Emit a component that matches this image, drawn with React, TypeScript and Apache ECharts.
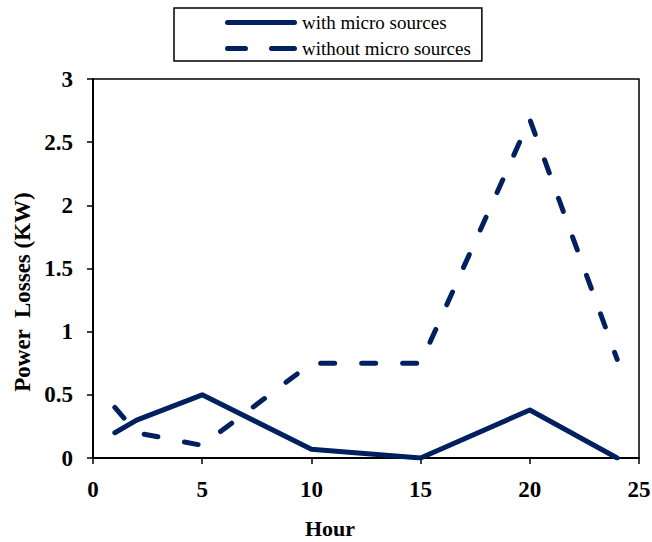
import React, { useEffect, useRef } from "react";
import * as echarts from "echarts";

const hours = [1, 2, 5, 10, 15, 20, 24];
const withMicro = [0.2, 0.3, 0.5, 0.07, 0, 0.38, 0];
const withoutMicro = [0.4, 0.2, 0.1, 0.75, 0.75, 2.68, 0.78];
const seriesNames = ["with micro sources", "without micro sources"];
const xTitle = "Hour";
const yTitle = "Power  Losses (KW)";

const NAVY = "#002060";
const FONT = "'Liberation Serif', 'Times New Roman', serif";

const SOLID_ICON = "path://M2.5,0 H69.5 A2.5,2.5 0 0 1 69.5,5 H2.5 A2.5,2.5 0 0 1 2.5,0 Z";
const DASH_ICON =
  "path://M2.5,0 H20.5 A2.5,2.5 0 0 1 20.5,5 H2.5 A2.5,2.5 0 0 1 2.5,0 Z M46.5,0 H69.5 A2.5,2.5 0 0 1 69.5,5 H46.5 A2.5,2.5 0 0 1 46.5,0 Z";

export default function App() {
  const ref = useRef<HTMLDivElement>(null);
  useEffect(() => {
    if (!ref.current) return;
    const chart = echarts.init(ref.current, undefined, { renderer: "svg" });
    chart.setOption({
      animation: false,
      backgroundColor: "#fff",
      textStyle: { fontFamily: FONT },
      grid: {
        left: 93,
        right: 13,
        top: 79,
        bottom: 84,
        containLabel: false,
        outerBoundsMode: "none",
        show: true,
        borderColor: "#000",
        borderWidth: 1.5,
      },
      legend: {
        orient: "vertical",
        left: 174,
        top: 8,
        padding: [5, 11, 3, 51],
        itemWidth: 72,
        itemHeight: 5,
        itemGap: 7,
        borderColor: "#000",
        borderWidth: 1.5,
        borderRadius: 0,
        textStyle: { fontFamily: FONT, fontSize: 19, color: "#000" },
        data: [
          { name: seriesNames[0], icon: SOLID_ICON },
          { name: seriesNames[1], icon: DASH_ICON },
        ],
      },
      graphic: [
        {
          type: "text",
          left: 305,
          top: 517,
          style: { text: xTitle, fontFamily: FONT, fontSize: 22, fontWeight: "bold", fill: "#000" },
        },
        {
          type: "text",
          x: 22,
          y: 292,
          rotation: Math.PI / 2,
          style: {
            text: yTitle,
            fontFamily: FONT,
            fontSize: 23,
            fontWeight: "bold",
            fill: "#000",
            align: "center",
            verticalAlign: "middle",
          },
        },
      ],
      xAxis: {
        type: "value",
        min: 0,
        max: 25,
        interval: 5,
        axisLine: { show: true, onZero: false, lineStyle: { color: "#000", width: 2 } },
        axisTick: { show: true, length: 6, lineStyle: { color: "#000", width: 1.5 } },
        axisLabel: { fontFamily: FONT, fontSize: 23, fontWeight: "bold", color: "#000", margin: 20 },
        splitLine: { show: false },
      },
      yAxis: {
        type: "value",
        min: 0,
        max: 3,
        interval: 0.5,
        axisLine: { show: true, lineStyle: { color: "#000", width: 2 } },
        axisTick: { show: true, length: 6, lineStyle: { color: "#000", width: 1.5 } },
        axisLabel: { fontFamily: FONT, fontSize: 23, fontWeight: "bold", color: "#000", margin: 20 },
        splitLine: { show: false },
      },
      series: [
        {
          name: seriesNames[0],
          type: "line",
          data: hours.map((h, i) => [h, withMicro[i]]),
          symbol: "none",
          lineStyle: { color: NAVY, width: 5, cap: "round", join: "round" },
          itemStyle: { color: NAVY },
        },
        {
          name: seriesNames[1],
          type: "line",
          data: hours.map((h, i) => [h, withoutMicro[i]]),
          symbol: "none",
          lineStyle: { color: NAVY, width: 5, type: [14, 27], cap: "round", join: "round" },
          itemStyle: { color: NAVY },
        },
      ],
    });
    return () => chart.dispose();
  }, []);
  return <div ref={ref} style={{ width: 652, height: 542, position: "absolute", left: 0, top: 0 }} />;
}
